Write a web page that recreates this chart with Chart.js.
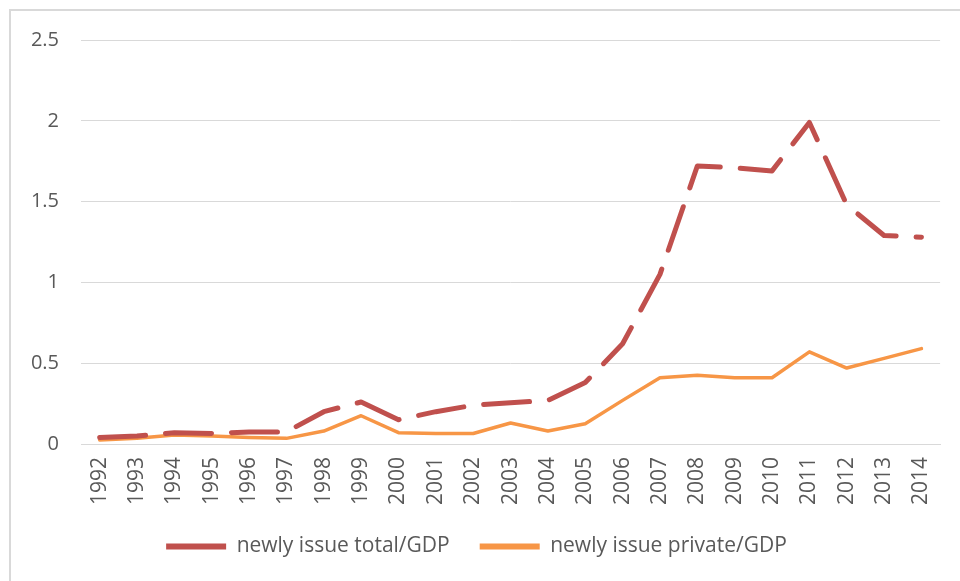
<!DOCTYPE html>
<html>
<head>
<meta charset="utf-8">
<script src="https://cdn.jsdelivr.net/npm/chart.js@4"></script>
<style>
    html, body { margin: 0; padding: 0; background: #fff; }
    #wrap { position: relative; width: 960px; height: 581px; }
    #frame { position: absolute; left: 9px; top: 9px; width: 980px; height: 600px;
             border-left: 2px solid #d9d9d9; border-top: 2px solid #d9d9d9; }
    canvas { position: absolute; left: 0; top: 0; }
</style>
</head>
<body>
<div id="wrap">
    <div id="frame"></div>
    <canvas id="myChart" width="960" height="581"></canvas>
</div>
<script>
// --------------------------- DATA ---------------------------

const years = ['1992', '1993', '1994', '1995', '1996', '1997', '1998', '1999', '2000', '2001', '2002', '2003',
               '2004', '2005', '2006', '2007', '2008', '2009', '2010', '2011', '2012', '2013', '2014'];

// newly issue total / GDP
const totalGdp = [0.04, 0.05, 0.07, 0.065, 0.075, 0.075, 0.20, 0.26, 0.15, 0.20, 0.24, 0.255,
                  0.27, 0.38, 0.62, 1.05, 1.72, 1.71, 1.69, 1.99, 1.48, 1.29, 1.28];

// newly issue private / GDP
const privateGdp = [0.025, 0.035, 0.055, 0.05, 0.04, 0.035, 0.08, 0.175, 0.07, 0.065, 0.065, 0.13,
                    0.08, 0.125, 0.27, 0.41, 0.425, 0.41, 0.41, 0.57, 0.47, 0.53, 0.59];

const yTicks = [0, 0.5, 1, 1.5, 2, 2.5];

// --------------------------- CHART ---------------------------

const fontFam = '"Open Sans", "Liberation Sans", sans-serif';
const textGrey = '#595959';
const gridGrey = '#d9d9d9';

let ctx = document.querySelector('#myChart');
let myChart = new Chart(ctx, {
    type: 'line',
    data: {
        labels: years,
        datasets: [{
            label: 'newly issue total/GDP',
            data: totalGdp,
            borderColor: '#c0504d',
            backgroundColor: '#c0504d',
            borderWidth: 5,
            borderDash: [46, 20],
            borderCapStyle: 'round',
            borderJoinStyle: 'round',
            pointRadius: 0,
            tension: 0
        }, {
            label: 'newly issue private/GDP',
            data: privateGdp,
            borderColor: '#f79646',
            backgroundColor: '#f79646',
            borderWidth: 3.5,
            borderCapStyle: 'round',
            borderJoinStyle: 'round',
            pointRadius: 0,
            tension: 0
        }]
    },
    options: {
        responsive: false,
        animation: false,
        layout: { padding: { left: 10, right: 17, top: 40, bottom: 14 } },
        scales: {
            x: {
                offset: true,
                grid: { display: false, drawTicks: false },
                border: { display: true, color: gridGrey, width: 1 },
                ticks: {
                    color: textGrey,
                    font: { family: fontFam, size: 21 },
                    maxRotation: 90, minRotation: 90,
                    autoSkip: false,
                    padding: 13
                },
                afterFit: (axis) => { axis.height = 62; }
            },
            y: {
                min: 0,
                max: 2.5,
                afterBuildTicks: (axis) => { axis.ticks = yTicks.map(v => ({ value: v })); },
                grid: { color: gridGrey, drawTicks: false },
                border: { display: false },
                ticks: {
                    color: textGrey,
                    font: { family: fontFam, size: 20 },
                    padding: 22,
                    callback: (v) => String(v)
                },
                afterFit: (axis) => { axis.width = 71; }
            }
        },
        plugins: {
            tooltip: { enabled: false },
            legend: {
                position: 'bottom',
                labels: {
                    color: textGrey,
                    font: { family: fontFam, size: 21 },
                    boxWidth: 60,
                    boxHeight: 6,
                    padding: 30,
                    generateLabels: (chart) => chart.data.datasets.map((ds, i) => ({
                        text: ds.label,
                        fillStyle: ds.borderColor,
                        strokeStyle: ds.borderColor,
                        lineWidth: 0,
                        hidden: false,
                        datasetIndex: i,
                        fontColor: textGrey
                    }))
                }
            }
        }
    }
});
</script>
</body>
</html>
